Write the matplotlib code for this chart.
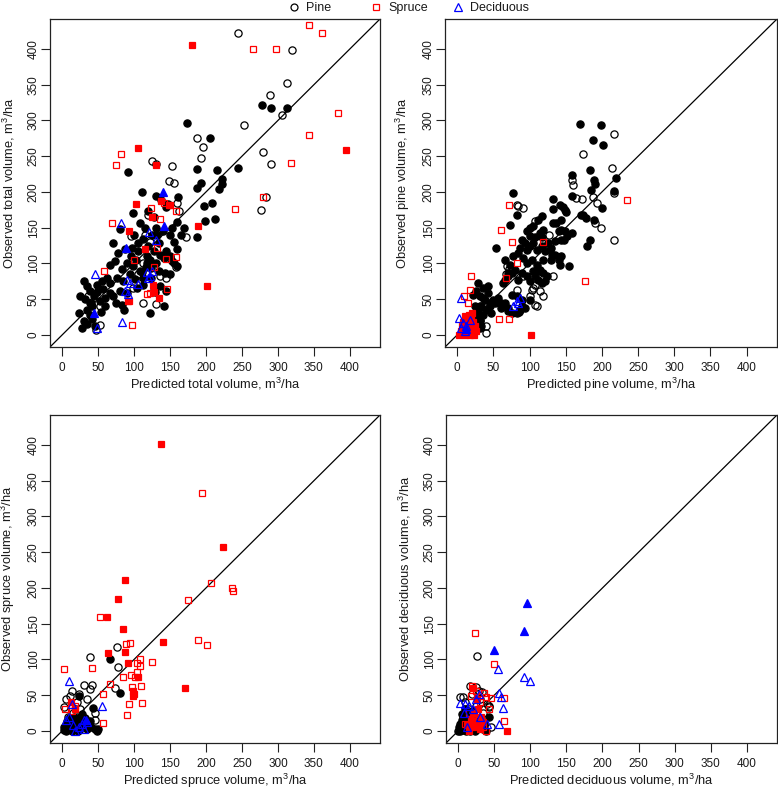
"""
plot.py
observed vs predicted volume, four panels (total / pine / spruce / deciduous)
"""

import matplotlib
matplotlib.use("Agg")

import matplotlib.pyplot as plt
from matplotlib.lines import Line2D

plt.rcParams["font.family"] = ["Liberation Sans", "DejaVu Sans"]
plt.rcParams["mathtext.default"] = "regular"

# ── CONFIG ─────────────────────────────────────────────
W, H, DPI = 778, 789, 100
LIM = (-17, 442)
TICKS = list(range(0, 401, 50))
TEXT = "#1a1a1a"

PINE_C = "black"
SPRUCE_C = "#ff0000"
DECID_C = "#0000ff"

# ── DATA (x = predicted, y = observed, m3/ha) ─────────
# total volume
total_pine_filled = [
    (173, 297), (205, 275), (278, 321), (290, 317), (313, 318),
    (187, 232), (215, 230), (245, 233), (222, 218), (222, 211), (193, 213), (188, 205), (218, 204),
    (91, 228), (111, 200), (131, 195), (161, 193), (197, 181), (209, 184), (199, 160), (213, 162), (187, 137),
    (147, 183), (160, 158), (137, 189), (144, 179), (119, 174), (98, 171), (108, 156), (80, 148),
    (152, 150), (130, 150), (140, 145), (125, 140), (113, 134), (105, 128), (120, 125), (135, 128),
    (150, 140), (155, 130), (160, 120), (145, 118),
    (71, 128), (78, 115), (97, 122), (106, 118), (127, 118), (136, 112), (141, 108), (152, 104), (155, 100), (160, 96),
    (67, 98), (74, 104), (83, 92), (90, 100), (99, 96), (108, 90), (118, 100), (124, 94), (134, 90), (143, 86), (150, 85),
    (30, 75), (35, 68), (39, 62), (48, 70), (57, 64), (67, 72), (76, 80), (85, 75), (94, 85), (101, 78),
    (111, 88), (124, 80), (136, 68), (145, 62),
    (25, 55), (32, 50), (39, 45), (44, 55), (53, 48), (60, 52), (67, 58), (83, 42), (86, 35), (122, 31), (141, 41), (129, 60),
    (23, 30), (30, 20), (34, 15), (41, 22), (46, 12), (38, 28), (28, 10), (35, 35), (42, 40), (54, 32), (60, 40),
    (75, 45), (70, 55), (90, 58),
    (118, 110), (122, 105), (112, 80), (130, 100), (95, 110), (88, 120), (100, 140), (115, 150), (128, 165),
    (165, 140), (170, 150), (62, 80), (55, 75), (48, 60), (80, 62), (104, 65), (113, 70), (150, 110), (132, 140),
    (116, 95), (103, 105),
]
total_pine_open = [
    (244, 423), (320, 399), (312, 352), (289, 336), (306, 308), (253, 293), (188, 276), (196, 263), (193, 247),
    (279, 256), (291, 239), (125, 243), (131, 239), (153, 236), (149, 215), (155, 213), (284, 193), (276, 175),
    (172, 137), (160, 185), (162, 173), (120, 168), (96, 138), (112, 44), (130, 43), (136, 82), (145, 80),
    (53, 40), (52, 14), (47, 7), (150, 108), (113, 100), (98, 65), (36, 55), (40, 45), (128, 66), (158, 95),
    (105, 85), (115, 140), (122, 130),
]
total_spruce_filled = [
    (181, 405), (395, 258), (105, 261), (130, 237), (103, 183), (138, 187), (125, 165), (93, 146), (189, 153),
    (202, 69), (126, 70), (135, 51), (93, 47), (128, 60), (150, 182), (115, 120),
]
total_spruce_open = [
    (265, 400), (298, 400), (343, 434), (362, 423), (384, 310), (343, 280), (318, 241), (75, 237), (82, 253),
    (279, 193), (241, 176), (123, 178), (141, 184), (148, 182), (158, 173), (136, 162), (69, 156), (145, 106),
    (158, 109), (132, 121), (58, 89), (146, 64), (118, 57), (122, 59), (97, 14), (92, 47), (100, 105), (128, 95),
]
total_decid_filled = [(140, 200), (89, 121), (142, 152), (44, 30)]
total_decid_open = [
    (82, 157), (121, 144), (131, 133), (46, 85), (90, 77), (94, 73), (106, 71), (91, 57), (122, 82), (119, 79),
    (83, 18), (48, 9), (125, 90), (87, 62), (118, 88),
]

# pine volume
pine_pine_filled = [
    (170, 295), (198, 293), (188, 272), (201, 265), (184, 231), (158, 223), (189, 216), (190, 211), (220, 219),
    (185, 203), (216, 202), (77, 199), (133, 190), (159, 194),
    (73, 154), (83, 168), (96, 146), (100, 150), (107, 137), (114, 143), (117, 137), (132, 176), (142, 182),
    (146, 179), (149, 175), (150, 172), (144, 161), (136, 157), (144, 147), (147, 133), (158, 143), (174, 168),
    (178, 164), (180, 125), (184, 133), (200, 178), (189, 161), (154, 96), (131, 112), (128, 119), (121, 75),
    (124, 82), (113, 89), (119, 105), (54, 121), (43, 68), (29, 73), (35, 52), (45, 40), (50, 49), (100, 49),
    (85, 32), (70, 33), (61, 45), (89, 40), (63, 73), (70, 87),
    (26, 26), (31, 19), (27, 14), (36, 28), (32, 10), (29, 21),
    (117, 166), (112, 161), (104, 152), (100, 138), (119, 147), (133, 156), (140, 145), (149, 145), (151, 138),
    (144, 133), (135, 131), (171, 168),
    (89, 133), (93, 128), (86, 121), (96, 119), (100, 124), (105, 128), (110, 119), (117, 124), (121, 117),
    (126, 128), (130, 121),
    (135, 112), (140, 105), (144, 110), (142, 98), (130, 105),
    (66, 105), (73, 98), (80, 91), (75, 86), (70, 82), (66, 77), (84, 77), (89, 86),
    (77, 110), (84, 114), (91, 107), (96, 100), (103, 105), (110, 98), (114, 91), (119, 86), (105, 89), (96, 82),
    (100, 75), (107, 82), (112, 77), (117, 72),
    (36, 65), (43, 58), (38, 49), (31, 54), (26, 61), (22, 56), (33, 40), (40, 35), (47, 30), (24, 40), (29, 33),
    (31, 21), (26, 14), (33, 12), (22, 21), (45, 44), (52, 44), (56, 51), (66, 44), (61, 37), (70, 37), (75, 30),
    (82, 30), (87, 35), (93, 37), (89, 49), (82, 54), (75, 56),
]
pine_pine_open = [
    (216, 281), (174, 253), (214, 233), (158, 216), (160, 210), (216, 198), (188, 193), (82, 182), (84, 180),
    (91, 177), (108, 159), (127, 140), (172, 190), (193, 185), (190, 156), (199, 149), (217, 133), (164, 191),
    (133, 83), (105, 66), (110, 40), (39, 3), (40, 13), (31, 40), (68, 85), (72, 92), (91, 82), (82, 63),
    (107, 70), (114, 61), (119, 54), (103, 63), (100, 54), (107, 42), (69, 97),
]
pine_spruce_filled = [
    (3, 0), (5, 5), (7, 2), (9, 10), (11, 0), (13, 15), (15, 5), (17, 20), (19, 25), (21, 8), (23, 0), (25, 12),
    (8, 18), (12, 22), (16, 28), (20, 30), (6, 12), (14, 3), (18, 0), (22, 18), (26, 5), (10, 26), (102, 0),
]
pine_spruce_open = [
    (234, 189), (72, 182), (61, 147), (76, 130), (118, 130), (19, 82), (17, 63), (15, 45), (9, 54), (57, 22),
    (71, 22), (176, 76), (68, 80), (82, 100),
]
pine_decid_filled = [(12, 8)]
pine_decid_open = [
    (5, 52), (3, 24), (8, 17), (12, 12), (5, 10), (17, 21), (77, 40), (82, 47), (86, 52), (84, 45), (10, 5),
]

# spruce volume
spruce_pine_filled = [
    (67, 101), (80, 53), (43, 32), (48, 0), (23, 49), (30, 5), (10, 2), (5, 0), (15, 5), (20, 8), (25, 3),
    (35, 2), (3, 5), (12, 12), (18, 15), (28, 10), (40, 5), (8, 8), (2, 1), (22, 0), (33, 8), (45, 3), (14, 0),
    (6, 14), (25, 18), (38, 14), (16, 20), (28, 24), (10, 18), (32, 18), (50, 2), (18, 2),
]
spruce_pine_open = [
    (38, 103), (76, 118), (77, 90), (73, 60), (2, 34), (11, 49), (13, 56), (23, 52), (30, 64), (41, 64), (39, 59),
    (46, 15), (20, 40), (25, 30), (8, 20), (15, 25), (35, 45), (5, 10), (30, 12), (45, 25), (5, 45), (18, 10),
]
spruce_spruce_filled = [
    (137, 401), (224, 257), (87, 211), (77, 184), (62, 159), (85, 142), (63, 109), (87, 110), (92, 95),
    (140, 124), (106, 76), (99, 56), (99, 49), (171, 60), (100, 52), (18, 30), (12, 40),
]
spruce_spruce_open = [
    (194, 333), (207, 207), (236, 200), (237, 196), (175, 183), (53, 159), (89, 121), (94, 123), (3, 87),
    (42, 88), (108, 100), (108, 91), (125, 97), (189, 127), (201, 120), (66, 65), (85, 75), (104, 82), (101, 75),
    (97, 61), (110, 63), (111, 39), (93, 37), (90, 22), (57, 51), (57, 11), (4, 31), (13, 28), (18, 35),
    (96, 78), (104, 95),
]
spruce_decid_filled = [(33, 15)]
spruce_decid_open = [
    (9, 70), (56, 35), (23, 5), (30, 3), (27, 10), (34, 12), (13, 38), (10, 20), (5, 15), (18, 0), (30, 15), (15, 8),
]

# deciduous volume
decid_pine_filled = [
    (42, 20), (0, 0), (2, 2), (4, 5), (6, 1), (8, 8), (10, 3), (12, 12), (14, 6), (16, 0), (18, 10), (20, 4),
    (22, 15), (24, 7), (26, 2), (28, 12), (30, 5), (3, 10), (5, 15), (7, 20), (9, 13), (11, 25), (13, 18),
    (15, 22), (17, 5), (19, 28), (21, 20), (23, 0), (25, 18), (32, 15), (34, 3), (36, 10), (38, 0), (1, 6),
    (3, 0), (6, 8), (11, 0), (14, 28), (9, 30), (5, 24),
]
decid_pine_open = [
    (26, 105), (16, 63), (24, 62), (29, 56), (19, 52), (6, 47), (2, 47), (40, 38), (42, 33), (43, 35), (10, 40),
    (15, 30), (30, 45), (35, 25), (8, 20), (20, 12), (28, 8), (45, 5), (33, 55), (25, 35),
]
decid_spruce_filled = [
    (67, 0), (20, 5), (25, 10), (30, 2), (18, 15), (22, 25), (28, 30), (15, 0), (35, 12), (12, 8), (26, 45),
    (20, 60), (32, 20),
]
decid_spruce_open = [
    (23, 137), (49, 93), (63, 46), (64, 14), (39, 0), (24, 56), (36, 53), (45, 46), (17, 49), (19, 63), (38, 47),
    (30, 40), (20, 20), (28, 15), (35, 5), (10, 10), (15, 25), (42, 30),
]
decid_decid_filled = [(96, 179), (91, 140), (50, 113)]
decid_decid_open = [
    (55, 87), (91, 75), (99, 70), (57, 53), (62, 32), (56, 10), (29, 52), (3, 39), (10, 38), (59, 47), (20, 30),
    (15, 35), (25, 45), (8, 25), (30, 20), (12, 5), (40, 10),
]

PANELS = [
    ("total", (50, 19, 380, 347),
     [total_pine_filled, total_pine_open, total_spruce_filled, total_spruce_open,
      total_decid_filled, total_decid_open]),
    ("pine", (445, 19, 777, 347),
     [pine_pine_filled, pine_pine_open, pine_spruce_filled, pine_spruce_open,
      pine_decid_filled, pine_decid_open]),
    ("spruce", (50, 415, 380, 743),
     [spruce_pine_filled, spruce_pine_open, spruce_spruce_filled, spruce_spruce_open,
      spruce_decid_filled, spruce_decid_open]),
    ("deciduous", (446, 415, 777, 743),
     [decid_pine_filled, decid_pine_open, decid_spruce_filled, decid_spruce_open,
      decid_decid_filled, decid_decid_open]),
]

# marker, colour, size, filled  (same order as the group lists)
STYLES = [
    ("o", PINE_C, 5.2, True),
    ("o", PINE_C, 5.2, False),
    ("s", SPRUCE_C, 4.6, True),
    ("s", SPRUCE_C, 4.6, False),
    ("^", DECID_C, 5.6, True),
    ("^", DECID_C, 5.6, False),
]


def draw_panel(fig, name, rect, groups):
    l, t, r, b = rect
    w, h = r - l, b - t
    ax = fig.add_axes([l / W, 1 - b / H, w / W, h / H])

    for pts, (mk, col, ms, filled) in zip(groups, STYLES):
        if not pts:
            continue
        xs = [p[0] for p in pts]
        ys = [p[1] for p in pts]
        ax.plot(xs, ys, linestyle="none", marker=mk, markersize=ms,
                markeredgecolor=col, markerfacecolor=col if filled else "none",
                markeredgewidth=0.9)

    # 1:1 line
    ax.plot(LIM, LIM, color="black", lw=0.9, zorder=0)

    ax.set_xlim(LIM)
    ax.set_ylim(LIM)
    ax.set_xticks(TICKS)
    ax.set_yticks(TICKS)
    for s in ax.spines.values():
        s.set_linewidth(0.9)
        s.set_color("#222222")

    ax.tick_params(direction="out", length=6.5, width=0.8, color="#222222",
                   labelsize=8.5, labelcolor=TEXT)
    ax.tick_params(axis="x", pad=4)
    ax.tick_params(axis="y", pad=1, labelrotation=90)
    for lab in ax.get_yticklabels():
        lab.set_va("center")

    ax.set_xlabel(f"Predicted {name} volume, m$^3$/ha", fontsize=9.3, color=TEXT, va="top")
    ax.set_ylabel(f"Observed {name} volume, m$^3$/ha", fontsize=9.3, color=TEXT)
    ax.xaxis.set_label_coords(0.5, -29 / h)
    ax.yaxis.set_label_coords(-33 / w, 0.5)
    return ax


def draw_legend(fig):
    ym = 1 - 6.5 / H
    yb = 1 - 10.7 / H
    items = [
        (294, 306, "o", PINE_C, 5.0, "Pine"),
        (376, 388, "s", SPRUCE_C, 4.6, "Spruce"),
        (458, 470, "^", DECID_C, 5.4, "Deciduous"),
    ]
    for mx, tx, mk, col, ms, lab in items:
        fig.add_artist(Line2D([mx / W], [ym], transform=fig.transFigure, linestyle="none",
                              marker=mk, markersize=ms, markeredgecolor=col,
                              markerfacecolor="none", markeredgewidth=0.9))
        fig.text(tx / W, yb, lab, fontsize=9, color=TEXT, ha="left", va="baseline")


def main():
    fig = plt.figure(figsize=(W / DPI, H / DPI), dpi=DPI)
    for name, rect, groups in PANELS:
        draw_panel(fig, name, rect, groups)
    draw_legend(fig)
    fig.savefig("out.png", dpi=DPI)
    plt.close(fig)


if __name__ == "__main__":
    main()
